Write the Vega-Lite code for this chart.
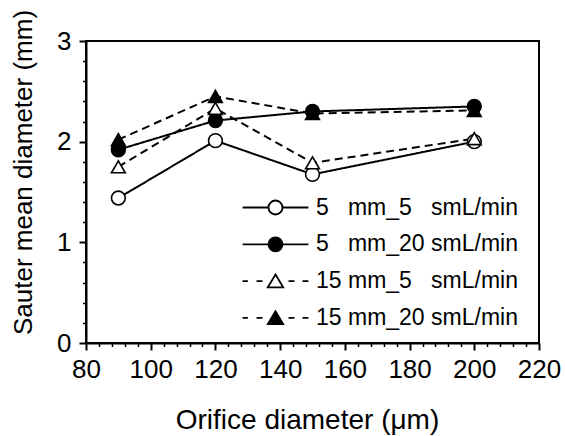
{
  "$schema": "https://vega.github.io/schema/vega-lite/v6.json",
  "width": 453,
  "height": 302,
  "autosize": {"type": "none"},
  "padding": {"left": 86, "top": 41, "right": 26, "bottom": 93},
  "background": "white",
  "config": {
    "view": {"stroke": "black", "strokeWidth": 2},
    "font": "Liberation Sans",
    "axis": {
      "grid": false,
      "labelColor": "black",
      "titleColor": "black",
      "tickColor": "black",
      "domainColor": "black",
      "labelFont": "Liberation Sans",
      "titleFont": "Liberation Sans",
      "titleFontWeight": "normal"
    },
    "legend": {
      "title": null,
      "orient": "none",
      "legendX": 178,
      "legendY": 155,
      "symbolSize": 196,
      "symbolStrokeWidth": 1.8,
      "symbolStrokeColor": "black",
      "labelFontSize": 23,
      "labelFont": "Liberation Sans",
      "labelColor": "black",
      "labelOffset": 29,
      "rowPadding": 12.8,
      "labelLimit": 400
    }
  },
  "data": {
    "values": [
      {"orifice": 90, "d": 1.44, "series": "5 mm_5 smL/min"},
      {"orifice": 120, "d": 2.01, "series": "5 mm_5 smL/min"},
      {"orifice": 150, "d": 1.675, "series": "5 mm_5 smL/min"},
      {"orifice": 200, "d": 2.0, "series": "5 mm_5 smL/min"},
      {"orifice": 90, "d": 1.92, "series": "5 mm_20 smL/min"},
      {"orifice": 120, "d": 2.21, "series": "5 mm_20 smL/min"},
      {"orifice": 150, "d": 2.3, "series": "5 mm_20 smL/min"},
      {"orifice": 200, "d": 2.35, "series": "5 mm_20 smL/min"},
      {"orifice": 90, "d": 1.75, "series": "15 mm_5 smL/min"},
      {"orifice": 120, "d": 2.33, "series": "15 mm_5 smL/min"},
      {"orifice": 150, "d": 1.79, "series": "15 mm_5 smL/min"},
      {"orifice": 200, "d": 2.03, "series": "15 mm_5 smL/min"},
      {"orifice": 90, "d": 2.02, "series": "15 mm_20 smL/min"},
      {"orifice": 120, "d": 2.45, "series": "15 mm_20 smL/min"},
      {"orifice": 150, "d": 2.28, "series": "15 mm_20 smL/min"},
      {"orifice": 200, "d": 2.31, "series": "15 mm_20 smL/min"}
    ]
  },
  "resolve": {
    "scale": {"shape": "independent", "fill": "independent", "size": "independent", "stroke": "independent"},
    "axis": {"x": "independent", "y": "independent"}
  },
  "layer": [
    {
      "mark": {"type": "line", "color": "black", "strokeWidth": 2},
      "encoding": {
        "x": {
          "field": "orifice", "type": "quantitative",
          "scale": {"domain": [80, 220], "nice": false, "zero": false},
          "axis": {
            "orient": "bottom",
            "values": [80, 100, 120, 140, 160, 180, 200, 220],
            "title": "Orifice diameter (μm)",
            "labelFontSize": 26, "titleFontSize": 28,
            "tickSize": 7, "tickWidth": 2, "domainWidth": 2,
            "labelPadding": 6, "titlePadding": 24, "labelFlush": false,
            "titleX": 221
          }
        },
        "y": {
          "field": "d", "type": "quantitative",
          "scale": {"domain": [0, 3], "nice": false},
          "axis": {
            "orient": "left",
            "values": [0, 1, 2, 3],
            "title": "Sauter mean diameter (mm)",
            "labelFontSize": 26, "titleFontSize": 26,
            "tickSize": 7, "tickWidth": 2, "domainWidth": 2,
            "labelPadding": 8, "titlePadding": 20, "labelFlush": false,
            "titleY": 131
          }
        },
        "detail": {"field": "series"},
        "strokeDash": {
          "field": "series", "type": "nominal",
          "scale": {
            "domain": ["5 mm_5 smL/min", "5 mm_20 smL/min", "15 mm_5 smL/min", "15 mm_20 smL/min"],
            "range": [[1, 0], [1, 0], [8, 5], [8, 5]]
          },
          "legend": null
        }
      }
    },
    {
      "mark": {"type": "point", "stroke": "black", "strokeWidth": 1.6, "opacity": 1},
      "encoding": {
        "x": {
          "field": "orifice", "type": "quantitative",
          "axis": {
            "orient": "bottom",
            "values": [84, 88, 92, 96, 104, 108, 112, 116, 124, 128, 132, 136, 144, 148, 152, 156, 164, 168, 172, 176, 184, 188, 192, 196, 204, 208, 212, 216],
            "labels": false, "domain": false, "title": null,
            "tickSize": 3.5, "tickWidth": 1.5
          }
        },
        "y": {
          "field": "d", "type": "quantitative",
          "axis": {
            "orient": "left",
            "values": [0.2, 0.4, 0.6, 0.8, 1.2, 1.4, 1.6, 1.8, 2.2, 2.4, 2.6, 2.8],
            "labels": false, "domain": false, "title": null,
            "tickSize": 3.5, "tickWidth": 1.5
          }
        },
        "shape": {
          "field": "series", "type": "nominal",
          "scale": {
            "domain": ["5 mm_5 smL/min", "5 mm_20 smL/min", "15 mm_5 smL/min", "15 mm_20 smL/min"],
            "range": ["circle", "circle", "triangle-up", "triangle-up"]
          },
          "legend": null
        },
        "fill": {
          "field": "series", "type": "nominal",
          "scale": {
            "domain": ["5 mm_5 smL/min", "5 mm_20 smL/min", "15 mm_5 smL/min", "15 mm_20 smL/min"],
            "range": ["white", "black", "white", "black"]
          },
          "legend": null
        },
        "size": {
          "field": "series", "type": "nominal",
          "scale": {
            "domain": ["5 mm_5 smL/min", "5 mm_20 smL/min", "15 mm_5 smL/min", "15 mm_20 smL/min"],
            "range": [190, 190, 260, 260]
          },
          "legend": null
        }
      }
    },
    {
      "transform": [{"filter": "datum.d > 100"}],
      "mark": {"type": "point", "strokeWidth": 1.8, "opacity": 1},
      "encoding": {
        "x": {"field": "orifice", "type": "quantitative", "axis": null},
        "y": {"field": "d", "type": "quantitative", "axis": null},
        "shape": {
          "field": "series", "type": "nominal",
          "scale": {
            "domain": ["5 mm_5 smL/min", "5 mm_20 smL/min", "15 mm_5 smL/min", "15 mm_20 smL/min"],
            "range": [
              "M-4.7,0H-1M1,0H4.7M1,0A1,1,0,1,1,-1,0A1,1,0,1,1,1,0Z",
              "M-4.7,0H-1M1,0H4.7M1,0A1,1,0,1,1,-1,0A1,1,0,1,1,1,0Z",
              "M-4.7,0H-3.95M-2.71,0H-1.86M1.86,0H2.71M3.86,0H4.7M0,-0.95L1.1,0.9L-1.1,0.9Z",
              "M-4.7,0H-3.95M-2.71,0H-1.86M1.86,0H2.71M3.86,0H4.7M0,-0.95L1.1,0.9L-1.1,0.9Z"
            ]
          },
          "legend": {
            "labelExpr": "{'5 mm_5 smL/min': '5\u00a0\u00a0\u00a0mm_5\u00a0\u00a0\u00a0smL/min', '5 mm_20 smL/min': '5\u00a0\u00a0\u00a0mm_20\u00a0smL/min', '15 mm_5 smL/min': '15\u00a0mm_5\u00a0\u00a0\u00a0smL/min', '15 mm_20 smL/min': '15\u00a0mm_20\u00a0smL/min'}[datum.label]"
          }
        },
        "fill": {
          "field": "series", "type": "nominal",
          "scale": {
            "domain": ["5 mm_5 smL/min", "5 mm_20 smL/min", "15 mm_5 smL/min", "15 mm_20 smL/min"],
            "range": ["white", "black", "white", "black"]
          },
          "legend": {
            "labelExpr": "{'5 mm_5 smL/min': '5\u00a0\u00a0\u00a0mm_5\u00a0\u00a0\u00a0smL/min', '5 mm_20 smL/min': '5\u00a0\u00a0\u00a0mm_20\u00a0smL/min', '15 mm_5 smL/min': '15\u00a0mm_5\u00a0\u00a0\u00a0smL/min', '15 mm_20 smL/min': '15\u00a0mm_20\u00a0smL/min'}[datum.label]"
          }
        },
        "stroke": {
          "field": "series", "type": "nominal",
          "scale": {
            "domain": ["5 mm_5 smL/min", "5 mm_20 smL/min", "15 mm_5 smL/min", "15 mm_20 smL/min"],
            "range": ["black", "black", "black", "black"]
          },
          "legend": {
            "labelExpr": "{'5 mm_5 smL/min': '5\u00a0\u00a0\u00a0mm_5\u00a0\u00a0\u00a0smL/min', '5 mm_20 smL/min': '5\u00a0\u00a0\u00a0mm_20\u00a0smL/min', '15 mm_5 smL/min': '15\u00a0mm_5\u00a0\u00a0\u00a0smL/min', '15 mm_20 smL/min': '15\u00a0mm_20\u00a0smL/min'}[datum.label]"
          }
        }
      }
    }
  ]
}
